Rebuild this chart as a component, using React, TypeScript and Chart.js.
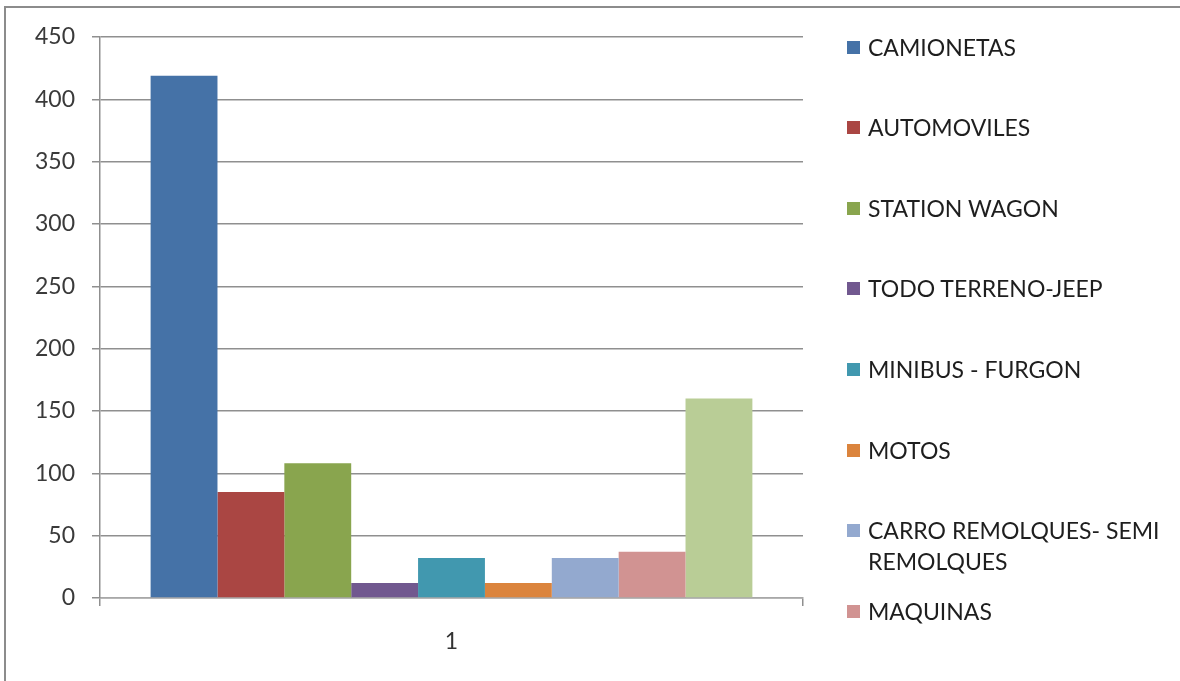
import React, { useEffect, useRef } from "react";
import { Chart, registerables } from "chart.js";

Chart.register(...registerables);

const categories = ["1"];
const seriesNames = [
  "CAMIONETAS",
  "AUTOMOVILES",
  "STATION WAGON",
  "TODO TERRENO-JEEP",
  "MINIBUS - FURGON",
  "MOTOS",
  "CARRO REMOLQUES- SEMI REMOLQUES",
  "MAQUINAS",
  "OTROS",
];
const seriesValues = [419, 85, 108, 12, 32, 12, 32, 37, 160];
const seriesColors = [
  "#4572A7",
  "#AA4643",
  "#89A54E",
  "#71588F",
  "#4198AF",
  "#DB843D",
  "#93A9CF",
  "#D19392",
  "#B9CD96",
];
const yMin = 0;
const yMax = 450;
const yStep = 50;

const FONT = "Lato, 'Open Sans', sans-serif";

export default function App() {
  const canvasRef = useRef<HTMLCanvasElement | null>(null);

  useEffect(() => {
    document.body.style.margin = "0";
    const canvas = canvasRef.current;
    if (!canvas) return;
    const gridColor = "#8f8f8f";
    const chart = new Chart(canvas, {
      type: "bar",
      data: {
        labels: categories,
        datasets: seriesNames.map((name, i) => ({
          label: name,
          data: [seriesValues[i]],
          backgroundColor: seriesColors[i],
          borderWidth: 0,
          categoryPercentage: 0.856,
          barPercentage: 1,
        })),
      },
      options: {
        responsive: false,
        animation: false,
        layout: { padding: { left: 0, top: 37, right: 377, bottom: 0 } },
        plugins: {
          legend: { display: false },
          tooltip: { enabled: false },
        },
        scales: {
          x: {
            type: "category",
            offset: true,
            grid: {
              display: true,
              drawOnChartArea: false,
              drawTicks: true,
              tickLength: 8,
              color: gridColor,
              lineWidth: 1.5,
              offset: true,
            },
            border: { display: true, color: "#a8a8a8", width: 1.5 },
            ticks: {
              font: { family: FONT, size: 23 },
              color: "#333333",
              padding: 22,
            },
            afterFit: (s: any) => {
              s.height = 83;
            },
          },
          y: {
            min: yMin,
            max: yMax,
            ticks: {
              stepSize: yStep,
              font: { family: FONT, size: 23 },
              color: "#3a3a3a",
              padding: 17,
            },
            grid: {
              color: gridColor,
              lineWidth: 1.5,
              tickLength: 8,
            },
            border: { display: true, color: gridColor, width: 1.5 },
            afterFit: (s: any) => {
              s.width = 100;
            },
          },
        },
      },
    });
    return () => chart.destroy();
  }, []);

  return (
    <div
      style={{
        position: "fixed",
        left: 0,
        top: 0,
        width: 1180,
        height: 681,
        overflow: "hidden",
        background: "#ffffff",
      }}
    >
      <div
        style={{
          position: "absolute",
          left: 4,
          top: 6,
          width: 2000,
          height: 2000,
          borderLeft: "2px solid #8c8c8c",
          borderTop: "2px solid #8c8c8c",
        }}
      />
      <canvas
        ref={canvasRef}
        width={1180}
        height={681}
        style={{ position: "absolute", left: 0, top: 0, width: 1180, height: 681 }}
      />
      {seriesNames.map((name, i) => {
        const cy = 47 + i * 80.6;
        return (
          <React.Fragment key={name}>
            <div
              style={{
                position: "absolute",
                left: 847,
                top: cy - 6.5,
                width: 13,
                height: 13,
                background: seriesColors[i],
              }}
            />
            <div
              style={{
                position: "absolute",
                left: 868,
                top: cy - 15.5,
                width: 305,
                lineHeight: "31px",
                fontFamily: FONT,
                fontSize: 23,
                color: "#1e1e1e",
              }}
            >
              {name}
            </div>
          </React.Fragment>
        );
      })}
    </div>
  );
}
